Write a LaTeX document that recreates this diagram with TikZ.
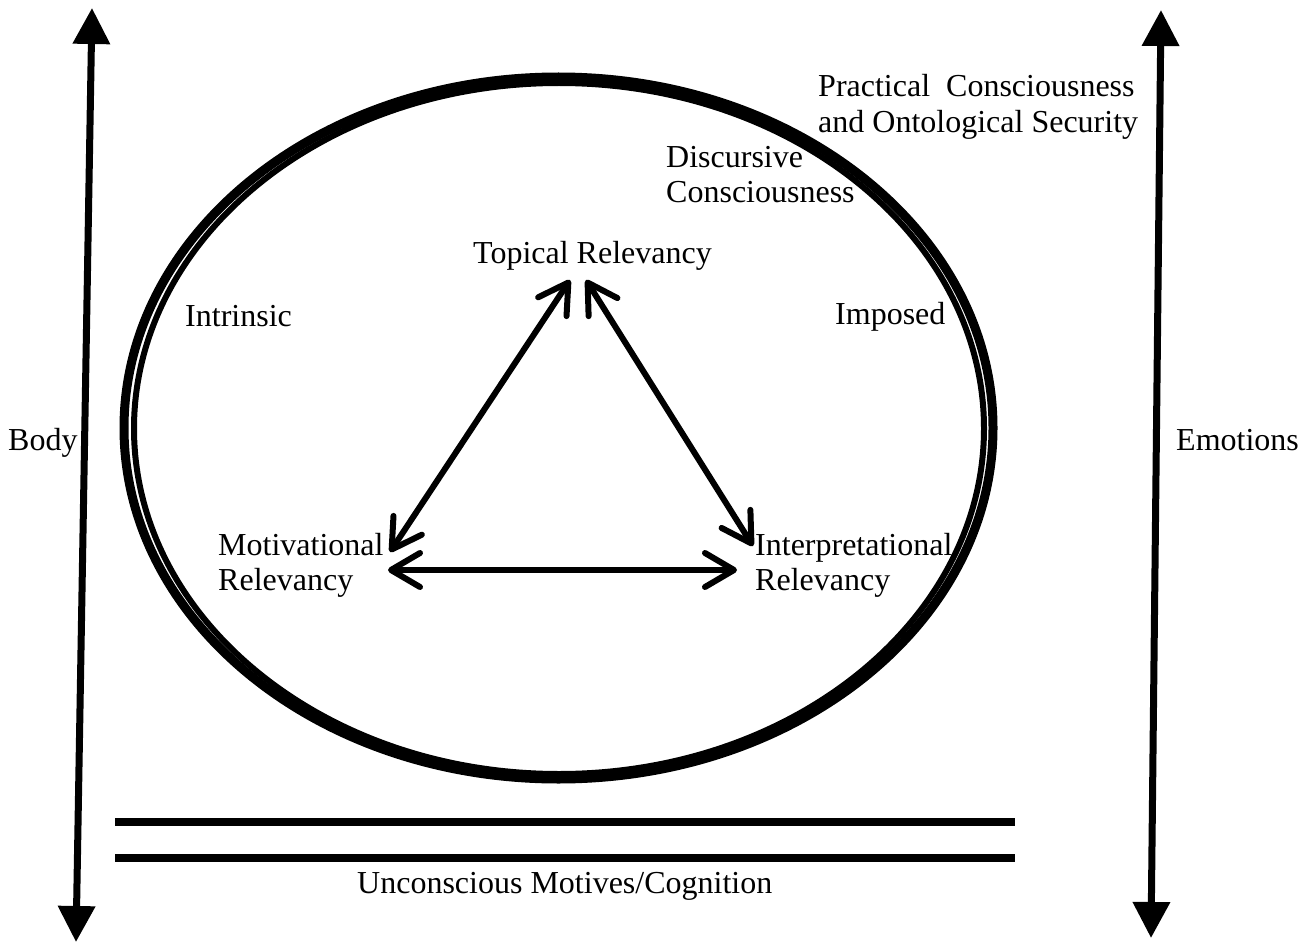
\documentclass[tikz,border=0pt]{standalone}
\usepackage{fontspec}
\setmainfont{Liberation Serif}
\usetikzlibrary{arrows.meta}
\begin{document}
\begin{tikzpicture}[x=1pt,y=-1pt,
  lbl/.style={anchor=base west, inner sep=0pt, font=\fontsize{32}{36}\selectfont},
  axis/.style={line width=7pt, {Triangle[length=36pt,width=36pt]}-{Triangle[length=36pt,width=36pt]}},
  rel/.style={line width=6pt, line cap=round,
    {Straight Barb[length=29pt,width=34pt,line cap=round,line join=round]}-{Straight Barb[length=29pt,width=34pt,line cap=round,line join=round]}},
  rule/.style={line width=7.5pt},
  ring/.style={line width=#1}]
% canvas
\useasboundingbox (0,0) rectangle (1303,944);

% outer frame of consciousness: two nested ellipses
\draw[ring=9pt] (558.5,428) ellipse [x radius=434.5pt, y radius=351pt];
\draw[ring=6pt] (559,428.5) ellipse [x radius=425pt, y radius=345.5pt];

% vertical axes
\coordinate (bodyTop) at (92,8);
\coordinate (bodyBot) at (76,942);
\coordinate (emoTop) at (1161,10);
\coordinate (emoBot) at (1151,938);
\draw[axis] (bodyTop) -- (bodyBot);
\draw[axis] (emoTop) -- (emoBot);

% unconscious layer
\coordinate (r1a) at (115,822);
\coordinate (r1b) at (1015,822);
\coordinate (r2a) at (115,858);
\coordinate (r2b) at (1015,858);
\draw[rule] (r1a) -- (r1b);
\draw[rule] (r2a) -- (r2b);

% labels
\node[lbl] (prac1) at (818,97) {Practical\ \ Consciousness};
\node[lbl] (prac2) at (818,133) {and Ontological Security};
\node[lbl] (disc1) at (666,168) {Discursive};
\node[lbl] (disc2) at (666,203) {Consciousness};
\node[lbl] (topical) at (473,263) {Topical Relevancy};
\node[lbl] (intrinsic) at (185,326) {Intrinsic};
\node[lbl] (imposed) at (835,324) {Imposed};
\node[lbl] (body) at (8,450) {Body};
\node[lbl] (emotions) at (1176,450) {Emotions};
\node[lbl] (mot1) at (218,555) {Motivational};
\node[lbl] (mot2) at (218,590) {Relevancy};
\node[lbl] (int1) at (755,555) {Interpretational};
\node[lbl] (int2) at (755,590) {Relevancy};
\node[lbl] (uncon) at (357,893) {Unconscious Motives/Cognition};

% relevancy triangle
\coordinate (topL) at (570,280);
\coordinate (topR) at (586,280);
\coordinate (motT) at (390,552);
\coordinate (motR) at (388,570);
\coordinate (intT) at (753,546);
\coordinate (intL) at (737,570);
\draw[rel] (topL) -- (motT);
\draw[rel] (topR) -- (intT);
\draw[rel] (motR) -- (intL);
\end{tikzpicture}
\end{document}
